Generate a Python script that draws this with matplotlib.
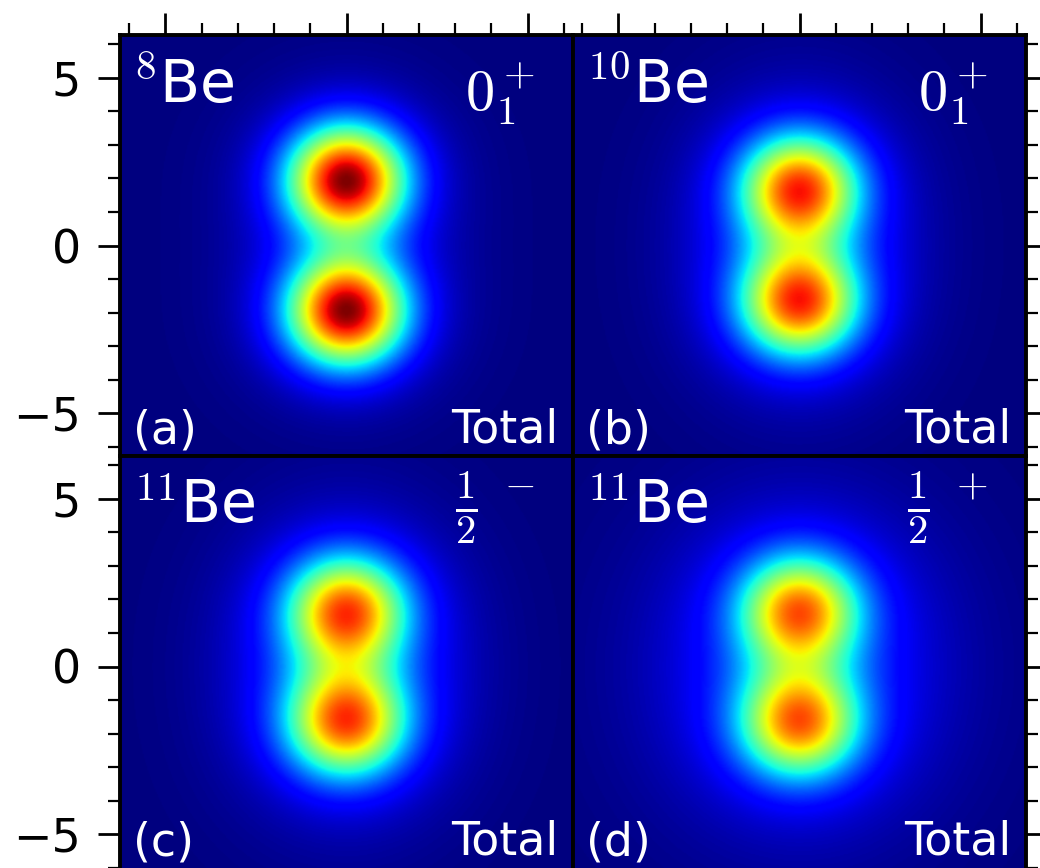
import numpy as np
import matplotlib
matplotlib.use("Agg")
import matplotlib.pyplot as plt
from matplotlib.ticker import MultipleLocator

plt.rcParams["mathtext.fontset"] = "cm"
plt.rcParams["font.family"] = ["DejaVu Sans"]

# Panel annotations
nuclei = [r"$^{8}$Be", r"$^{10}$Be", r"$^{11}$Be", r"$^{11}$Be"]
states = [r"$0_1^+$", r"$0_1^+$", r"$\frac{1}{2}^{\ -}$", r"$\frac{1}{2}^{\ +}$"]
state_y = [0.822, 0.822, 0.848, 0.848]
panel_tags = ["(a)", "(b)", "(c)", "(d)"]
component = "Total"

# Density model per panel: two alpha clusters on the y axis plus a valence-neutron cloud
cluster_offset = [1.96, 1.68, 1.64, 1.66]   # cluster centres at y = +/- offset (fm)
cluster_sigma = [1.10, 1.09, 1.10, 1.10]
cluster_tail = [0.12, 0.10, 0.10, 0.10]     # relative weight of each cluster's soft tail
tail_sigma = [1.95, 1.95, 1.95, 1.95]
cluster_amp = [0.88, 0.72, 0.68, 0.64]
cloud_amp = [0.00, 0.09, 0.11, 0.12]
cloud_sx = [1.00, 2.10, 2.20, 2.90]
cloud_sy = [1.00, 3.00, 3.00, 3.40]

XLIM = 6.25
YLIM = 6.28
grid = np.linspace(-6.5, 6.5, 401)
X, Y = np.meshgrid(grid, grid)


def cluster(i, yc):
    r2 = X**2 + (Y - yc)**2
    return (np.exp(-r2 / (2 * cluster_sigma[i]**2)) +
            cluster_tail[i] * np.exp(-r2 / (2 * tail_sigma[i]**2)))


def density(i):
    d = cluster_offset[i]
    core = cluster_amp[i] * (cluster(i, d) + cluster(i, -d))
    cloud = cloud_amp[i] * np.exp(-X**2 / (2 * cloud_sx[i]**2) - Y**2 / (2 * cloud_sy[i]**2))
    return core + cloud


W, H = 1040, 868
fig = plt.figure(figsize=(W / 100, H / 100), dpi=100)

col_left = [120, 573]
row_top = [35, 456]
aw, ah = 453, 421
# baseline height of the bottom-corner labels in each row (axes fraction)
tag_y = [0.029, 0.052]

for i in range(4):
    r, c = divmod(i, 2)
    ax = fig.add_axes([col_left[c] / W, 1 - (row_top[r] + ah) / H, aw / W, ah / H])
    ax.imshow(density(i), extent=[grid[0], grid[-1], grid[0], grid[-1]], origin="lower",
              cmap="jet", vmin=0, vmax=1, aspect="auto", interpolation="bilinear")
    ax.set_xlim(-XLIM, XLIM)
    ax.set_ylim(-YLIM, YLIM)
    for sp in ax.spines.values():
        sp.set_linewidth(2.8)
    ax.xaxis.set_major_locator(MultipleLocator(5))
    ax.xaxis.set_minor_locator(MultipleLocator(1))
    ax.yaxis.set_major_locator(MultipleLocator(5))
    ax.yaxis.set_minor_locator(MultipleLocator(1))
    ax.tick_params(which="both", direction="out", top=(r == 0), bottom=False,
                   left=(c == 0), right=(c == 1), labelbottom=False, labeltop=False,
                   labelleft=(c == 0), labelright=False, labelsize=33, pad=12)
    ax.tick_params(which="major", length=16, width=2.0)
    ax.tick_params(which="minor", length=8.5, width=1.6)

    ax.text(0.029, 0.84, nuclei[i], transform=ax.transAxes, color="white",
            fontsize=42, ha="left", va="baseline")
    ax.text(0.916, state_y[i], states[i], transform=ax.transAxes, color="white",
            fontsize=42, ha="right", va="baseline")
    ax.text(0.029, tag_y[r], panel_tags[i], transform=ax.transAxes, color="white",
            fontsize=33, ha="left", va="baseline")
    ax.text(0.967, tag_y[r] + 0.002, component, transform=ax.transAxes, color="white",
            fontsize=33, ha="right", va="baseline")

fig.savefig("out.png", dpi=100)
